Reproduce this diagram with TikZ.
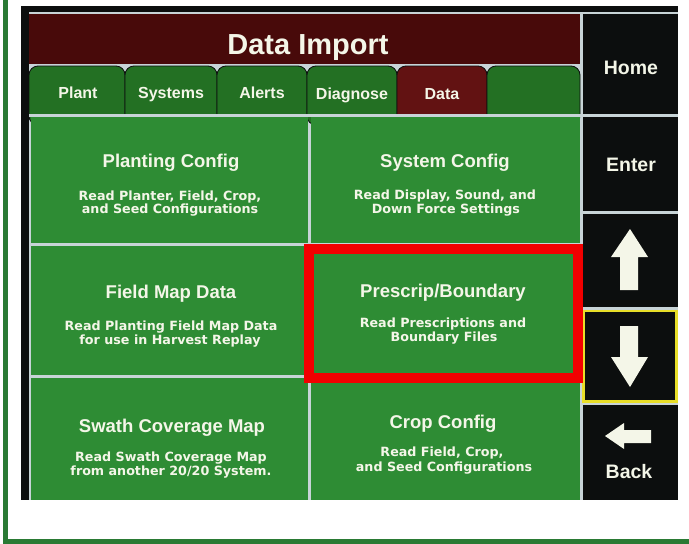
\documentclass[tikz,border=0pt]{standalone}
\usepackage{fontspec}
\setmainfont{Liberation Sans}
\newfontfamily\dvs{DejaVu Sans}
\definecolor{screen}{RGB}{12,14,14}
\definecolor{titlered}{RGB}{72,10,10}
\definecolor{tabgreen}{RGB}{35,112,35}
\definecolor{datatab}{RGB}{98,18,18}
\definecolor{cellgreen}{RGB}{46,140,52}
\definecolor{sepline}{RGB}{200,212,215}
\definecolor{framegreen}{RGB}{42,122,52}
\definecolor{hilite}{RGB}{242,0,0}
\definecolor{ybord}{RGB}{232,222,40}
\definecolor{txt}{RGB}{244,246,232}
\tikzset{
  hd/.style={text=txt, font=\bfseries\fontsize{18.5}{20}\selectfont, anchor=base, inner sep=0pt},
  ds/.style={text=txt, font=\dvs\bfseries\fontsize{12.7}{14}\selectfont, anchor=base, inner sep=0pt},
  tb/.style={text=txt, font=\bfseries\fontsize{16}{18}\selectfont, anchor=base, inner sep=0pt},
  bt/.style={text=txt, font=\bfseries\fontsize{19.5}{22}\selectfont, anchor=base, inner sep=0pt},
  tabshape/.style={draw=screen, line width=0.8pt, rounded corners=9pt},
  cell/.style={fill=cellgreen},
  btn/.style={fill=screen},
  arrowfill/.style={fill=txt},
}
\begin{document}
\begin{tikzpicture}[x=1pt,y=-1pt]
\useasboundingbox (0,0) rectangle (689,544);
\fill[white] (0,0) rectangle (689,544);
% outer green frame (left and bottom)
\fill[framegreen] (3,0) rectangle (8,544);
\fill[framegreen] (3,539) rectangle (689,544);
% screen
\fill[screen] (21,6) rectangle (678,500);
% light separators background
\fill[sepline] (29,12) rectangle (678,14);
\fill[sepline] (29,64) rectangle (581,500);
\fill[sepline] (580,12) rectangle (583,500);
% title bar
\fill[titlered] (29,14) rectangle (580,64);
% tabs
\fill[tabshape, fill=tabgreen] (29,66) rectangle (125,125);
\fill[tabshape, fill=tabgreen] (125,66) rectangle (217,125);
\fill[tabshape, fill=tabgreen] (217,66) rectangle (307,125);
\fill[tabshape, fill=tabgreen] (307,66) rectangle (397,125);
\fill[tabshape, fill=datatab] (397,66) rectangle (487,125);
\fill[tabshape, fill=tabgreen] (487,66) rectangle (580,125);
% separator below tabs
\fill[sepline] (29,114) rectangle (581,117);
% grid cells
\fill[cell] (31,117) rectangle (308,243);
\fill[cell] (311,117) rectangle (580,243);
\fill[cell] (31,246) rectangle (308,375);
\fill[cell] (311,246) rectangle (580,375);
\fill[cell] (31,378) rectangle (308,500);
\fill[cell] (311,378) rectangle (580,500);
% right panel buttons
\fill[btn] (583,14) rectangle (678,114);
\fill[sepline] (583,114) rectangle (678,117);
\fill[btn] (583,117) rectangle (678,211);
\fill[sepline] (583,211) rectangle (678,214);
\fill[btn] (583,214) rectangle (678,307);
\fill[sepline] (583,307) rectangle (678,310);
\fill[btn, draw=ybord, line width=2.5pt] (583.5,311) rectangle (676.5,401.5);
\fill[sepline] (583,403) rectangle (678,405);
\fill[btn] (583,405) rectangle (678,500);
% arrows
\fill[arrowfill] (630,229) -- (648,257) -- (638,257) -- (638,290) -- (620,290) -- (620,257) -- (611,257) -- cycle;
\fill[arrowfill] (630,387) -- (648,357) -- (638,357) -- (638,326) -- (620,326) -- (620,357) -- (611,357) -- cycle;
\fill[arrowfill] (605,436) -- (624,423) -- (624,430) -- (651,430) -- (651,443) -- (624,443) -- (624,449) -- cycle;
% highlight
\draw[hilite, line width=10pt] (309,249) rectangle (578,378);
% texts
\node[font=\bfseries\fontsize{29}{32}\selectfont, text=txt, anchor=base, inner sep=0pt] (title) at (308,54) {Data Import};
\node[tb] (tplant) at (78,98) {Plant};
\node[tb] (tsys) at (171,98) {Systems};
\node[tb] (talert) at (262,98.5) {Alerts};
\node[tb] (tdiag) at (352,99) {Diagnose};
\node[tb] (tdata) at (442,99) {Data};
\node[bt] (home) at (631,74) {Home};
\node[bt] (enter) at (631,171) {Enter};
\node[bt] (back) at (629,478) {Back};
\node[hd] (h1) at (171,167) {Planting Config};
\node[ds] (d1a) at (170,200) {Read Planter, Field, Crop,};
\node[ds] (d1b) at (170,213) {and Seed Configurations};
\node[hd] (h2) at (445,167) {System Config};
\node[ds] (d2a) at (445,199) {Read Display, Sound, and};
\node[ds] (d2b) at (446,213) {Down Force Settings};
\node[hd] (h3) at (171,298) {Field Map Data};
\node[ds] (d3a) at (171,330) {Read Planting Field Map Data};
\node[ds] (d3b) at (170,344) {for use in Harvest Replay};
\node[hd] (h4) at (443,297) {Prescrip/Boundary};
\node[ds] (d4a) at (443,327) {Read Prescriptions and};
\node[ds] (d4b) at (444,341) {Boundary Files};
\node[hd] (h5) at (172,432) {Swath Coverage Map};
\node[ds] (d5a) at (171,461) {Read Swath Coverage Map};
\node[ds] (d5b) at (171,475) {from another 20/20 System.};
\node[hd] (h6) at (443,428) {Crop Config};
\node[ds] (d6a) at (442,456) {Read Field, Crop,};
\node[ds] (d6b) at (444,471) {and Seed Configurations};
\end{tikzpicture}
\end{document}
